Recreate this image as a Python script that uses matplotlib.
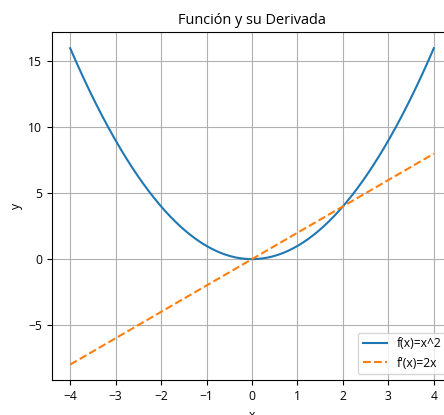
import matplotlib.pyplot as plt
import numpy as np
plt.rcParams["font.family"] = ["Open Sans", "DejaVu Sans"]
plt.rcParams["font.size"] = 8.7

# sample points over the interval shown
x_min, x_max = -4, 4
x = np.linspace(x_min, x_max, 400)

def f(x):
    return x ** 2

def df(x):
    return 2 * x

labels = ['f(x)=x^2', "f'(x)=2x"]
title = 'Función y su Derivada'

W, H = 444, 415
fig = plt.figure(figsize=(W / 100, H / 100), dpi=100)
# axes run a bit past the right edge of the canvas
ax = fig.add_axes([52 / W, 34.6 / H, 400 / W, 348 / H])

ax.plot(x, f(x), label=labels[0])
ax.plot(x, df(x), '--', label=labels[1])

ax.set_title(title)
ax.set_xlabel('x')
ax.set_ylabel('y')
ax.grid(True)
ax.legend(loc='lower right')

fig.savefig('out.png', dpi=100)
